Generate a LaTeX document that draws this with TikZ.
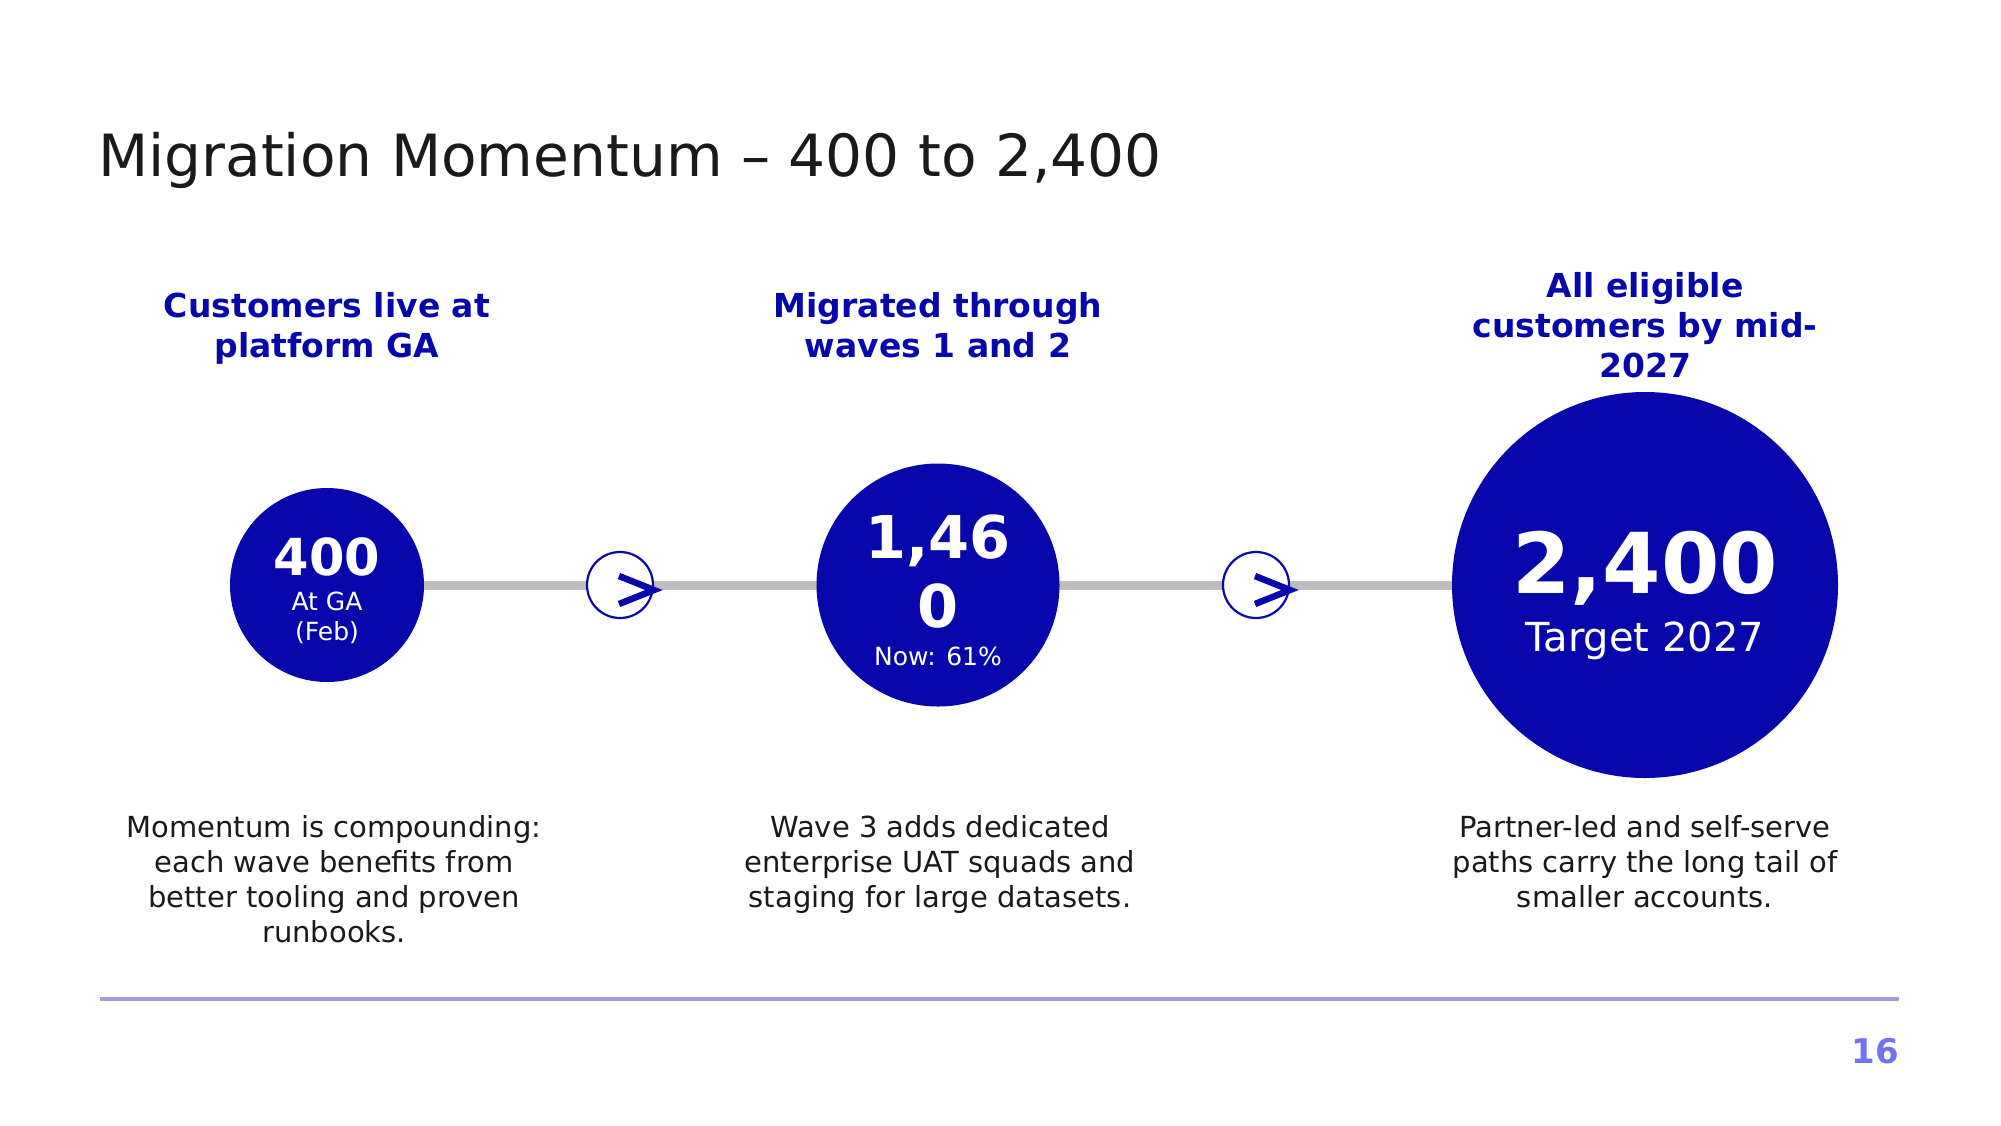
\documentclass[tikz,border=0pt]{standalone}
\usepackage{fontspec}
\setmainfont{DejaVu Sans}
\usetikzlibrary{backgrounds,calc}
\definecolor{brand}{HTML}{0707AC}
\definecolor{track}{HTML}{BDBDBD}
\definecolor{ink}{HTML}{1A1A1A}
\definecolor{rulec}{HTML}{A09CD8}
\definecolor{pnum}{HTML}{7373EE}
\tikzset{
  bigdot/.style={circle,fill=brand,draw=none,inner sep=0pt,minimum size=#1},
  arrowdot/.style={circle,fill=white,draw=brand,line width=2.2pt,inner sep=0pt,minimum size=66pt},
  chev/.style={draw=brand,line width=6.5pt,miter limit=10},
  head/.style={text=brand,font=\fontsize{33}{40}\selectfont\bfseries,align=center,inner sep=0pt,anchor=base},
  body/.style={text=ink,font=\fontsize{29}{35}\selectfont,align=center,inner sep=0pt,anchor=base},
  intext/.style={text=white,inner sep=0pt,anchor=base,align=center},
}
\begin{document}
\begin{tikzpicture}[x=1pt,y=-1pt]
\useasboundingbox (0,0) rectangle (2001,1125);
\begin{scope}[on background layer]
\fill[white] (0,0) rectangle (2001,1125);
\end{scope}
% title
\node[anchor=base west,inner sep=0pt,text=ink,font=\fontsize{58.2}{70}\selectfont] (title) at (98,176) {Migration Momentum – 400 to 2,400};
% circles
\node[bigdot=194pt] (c1) at (327,585) {};
\node[bigdot=243pt] (c2) at (938,585) {};
\node[bigdot=386pt] (c3) at (1645,585) {};
\begin{scope}[on background layer]
\draw[track,line width=9pt] (c1.east) -- (c3.west);
\end{scope}
% arrow circles
\node[arrowdot] (a1) at (620,585) {};
\node[arrowdot] (a2) at (1256,585) {};
\draw[chev] ($(a1.center)+(-1,-9)$) -- ($(a1.center)+(34,5)$) -- ($(a1.center)+(-1,19)$);
\draw[chev] ($(a2.center)+(-1,-9)$) -- ($(a2.center)+(34,5)$) -- ($(a2.center)+(-1,19)$);
% circle texts
\node[intext,font=\fontsize{51}{60}\selectfont\bfseries] (n1) at (327,575) {400};
\node[intext,font=\fontsize{25}{30}\selectfont] (s1) at (327,640) {At GA\\(Feb)};
\node[intext,font=\fontsize{59}{69}\selectfont\bfseries] (n2) at (938,627) {1,46\\0};
\node[intext,font=\fontsize{25}{30}\selectfont] (s2) at (938,665) {Now: 61\%};
\node[intext,font=\fontsize{84}{96}\selectfont\bfseries] (n3) at (1645,593) {2,400};
\node[intext,font=\fontsize{40}{48}\selectfont] (s3) at (1645,651) {Target 2027};
% headings
\node[head] (h1) at (327,357) {Customers live at\\platform GA};
\node[head] (h2) at (938,357) {Migrated through\\waves 1 and 2};
\node[head] (h3) at (1645,377) {All eligible\\customers by mid-\\2027};
% body
\node[body] (b1) at (334,942) {Momentum is compounding:\\each wave benefits from\\better tooling and proven\\runbooks.};
\node[body] (b2) at (940,907) {Wave 3 adds dedicated\\enterprise UAT squads and\\staging for large datasets.};
\node[body] (b3) at (1645,907) {Partner-led and self-serve\\paths carry the long tail of\\smaller accounts.};
% footer
\coordinate (fl) at (100,999);
\coordinate (fr) at (1899,999);
\draw[rulec,line width=4pt] (fl) -- (fr);
\node[anchor=base east,inner sep=0pt,text=pnum,font=\fontsize{34}{40}\selectfont\bfseries] (pg) at (1899,1063) {16};
\end{tikzpicture}
\end{document}
